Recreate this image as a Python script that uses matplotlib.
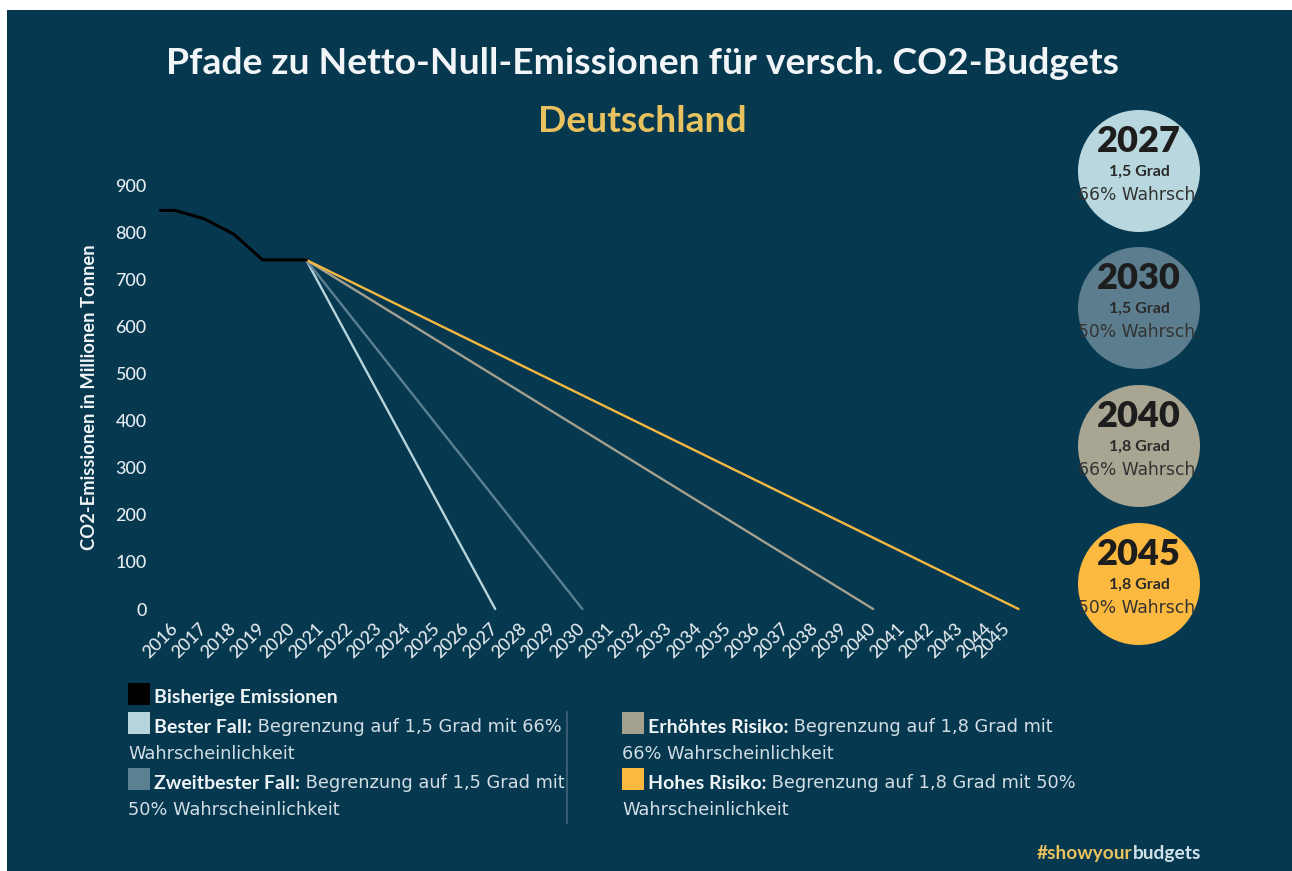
import matplotlib
matplotlib.use("Agg")
import matplotlib.pyplot as plt
from matplotlib.patches import Circle, Rectangle

# ===== DATA =====
HIST_YEARS = [2015.5, 2016, 2017, 2018, 2019, 2020.5]
HIST_VALUES = [846, 846, 828, 796, 741, 741]

BUDGET_END_YEARS = [2027, 2030, 2040, 2045]
BUDGET_GRAD = ["1,5 Grad", "1,5 Grad", "1,8 Grad", "1,8 Grad"]
BUDGET_PROB = ["66% Wahrsch.", "50% Wahrsch.", "66% Wahrsch.", "50% Wahrsch."]

TICK_YEARS = list(range(2016, 2046))
Y_TICKS = [0, 100, 200, 300, 400, 500, 600, 700, 800, 900]

LEGEND_BOLD = ["Bester Fall:", "Zweitbester Fall:", "Erhöhtes Risiko:", "Hohes Risiko:"]
LEGEND_LINE1 = [
    " Begrenzung auf 1,5 Grad mit 66%",
    " Begrenzung auf 1,5 Grad mit",
    " Begrenzung auf 1,8 Grad mit",
    " Begrenzung auf 1,8 Grad mit 50%",
]
LEGEND_LINE2 = [
    "Wahrscheinlichkeit",
    "50% Wahrscheinlichkeit",
    "66% Wahrscheinlichkeit",
    "Wahrscheinlichkeit",
]

# ===== STYLE =====
BG_COLOR = "#06384f"
TEXT_COLOR = "#e4ecf0"
LEGEND_TEXT = "#d3dee4"
GOLD = "#e8c25e"
HIST_COLOR = "#000000"
PATH_COLORS = ["#b6d4dc", "#5b8092", "#a3a08f", "#f6b840"]
CIRCLE_COLORS = ["#b9d7de", "#5b7d8e", "#a8a593", "#fbb93f"]
CIRCLE_TEXT = "#1d1d1d"
HEAD_FONT = "Lato"
BODY_FONT = "DejaVu Sans"

W, H = 1292, 871


def px_axes(fig):
    ax = fig.add_axes([0, 0, 1, 1], zorder=0)
    ax.set_xlim(0, W)
    ax.set_ylim(H, 0)
    ax.axis("off")
    return ax


def draw_budget_circles(bg):
    centers_y = [171, 308, 446, 584]
    cx, r = 1139, 61
    for year, grad, prob, color, cy in zip(BUDGET_END_YEARS, BUDGET_GRAD, BUDGET_PROB, CIRCLE_COLORS, centers_y):
        circ = Circle((cx, cy), r, facecolor=color, edgecolor="none")
        bg.add_patch(circ)
        texts = [
            bg.text(cx, cy - 30, str(year), ha="center", va="center", fontsize=26,
                    fontweight="heavy", family=HEAD_FONT, color=CIRCLE_TEXT),
            bg.text(cx, cy + 1, grad, ha="center", va="center", fontsize=11.5,
                    fontweight="bold", family=HEAD_FONT, color="#2a2a2a"),
            bg.text(cx, cy + 24, prob, ha="center", va="center", fontsize=12.3,
                    family=BODY_FONT, color="#333333"),
        ]
        for t in texts:
            t.set_clip_path(circ)


def draw_legend(fig, bg):
    renderer = fig.canvas.get_renderer()
    sq = 22
    bg.add_patch(Rectangle((128, 683), sq, sq, facecolor=HIST_COLOR, edgecolor="none"))
    bg.text(154, 697, "Bisherige Emissionen", ha="left", va="center", fontsize=14,
            fontweight="bold", family=HEAD_FONT, color="#eef3f5")

    col_x = [128, 128, 622, 622]
    row_y = [712, 768, 712, 768]
    for i in range(4):
        x0, y0 = col_x[i], row_y[i]
        bg.add_patch(Rectangle((x0, y0), sq, sq, facecolor=PATH_COLORS[i] if i != 3 else CIRCLE_COLORS[3],
                               edgecolor="none"))
        tb = bg.text(x0 + 26, y0 + 15, LEGEND_BOLD[i], ha="left", va="center", fontsize=14,
                     fontweight="bold", family=HEAD_FONT, color="#eef3f5")
        ext = tb.get_window_extent(renderer=renderer)
        bg.text(ext.x1, y0 + 15, LEGEND_LINE1[i], ha="left", va="center", fontsize=12.8,
                family=BODY_FONT, color=LEGEND_TEXT)
        bg.text(x0, y0 + 42, LEGEND_LINE2[i], ha="left", va="center", fontsize=12.8,
                family=BODY_FONT, color=LEGEND_TEXT)

    bg.plot([567, 567], [712, 823], color="#3f6479", linewidth=1.2)

    t1 = bg.text(1037, 853, "#showyour", ha="left", va="center", fontsize=13.8,
                 fontweight="bold", family=HEAD_FONT, color=GOLD)
    ext = t1.get_window_extent(renderer=renderer)
    bg.text(ext.x1, 853, "budgets", ha="left", va="center", fontsize=13.8,
            fontweight="bold", family=HEAD_FONT, color="#cfe2ea")


def main() -> None:
    fig = plt.figure(figsize=(W / 100, H / 100), dpi=100, facecolor="white")
    bg = px_axes(fig)
    bg.add_patch(Rectangle((7, 10), W - 7, H - 10, facecolor=BG_COLOR, edgecolor="none"))

    fig.text(0.497, 1 - 63 / H, "Pfade zu Netto-Null-Emissionen für versch. CO2-Budgets",
             ha="center", va="center", fontsize=26.8, fontweight="bold", family=HEAD_FONT, color="#f2f5f7")
    fig.text(0.497, 1 - 122 / H, "Deutschland", ha="center", va="center", fontsize=26.8,
             fontweight="bold", family=HEAD_FONT, color=GOLD)

    # main chart
    left, right, top, bottom = 155, 1020, 185, 609
    ax = fig.add_axes([left / W, 1 - bottom / H, (right - left) / W, (bottom - top) / H], zorder=2)
    ax.set_facecolor("none")
    for s in ax.spines.values():
        s.set_visible(False)

    start_year, start_val = HIST_YEARS[-1], HIST_VALUES[-1]
    for end_year, color in zip(BUDGET_END_YEARS, PATH_COLORS):
        ax.plot([start_year, end_year], [start_val, 0], color=color, linewidth=1.7,
                solid_capstyle="round", clip_on=False)
    ax.plot(HIST_YEARS, HIST_VALUES, color=HIST_COLOR, linewidth=2.2, clip_on=False)

    ax.set_xlim(2015.3, 2045.05)
    ax.set_ylim(0, 900)

    tick_pos = [y if y != 2045 else 2044.6 for y in TICK_YEARS]
    ax.set_xticks(tick_pos)
    ax.set_xticklabels([str(y) for y in TICK_YEARS], rotation=45, ha="right", va="center",
                       rotation_mode="anchor", fontsize=13, fontweight="medium",
                       family=HEAD_FONT, color=TEXT_COLOR)
    ax.set_yticks(Y_TICKS)
    ax.set_yticklabels([str(v) for v in Y_TICKS], fontsize=13, fontweight="medium",
                       family=HEAD_FONT, color=TEXT_COLOR)
    ax.tick_params(axis="both", length=0)
    ax.tick_params(axis="y", pad=6)
    ax.tick_params(axis="x", pad=12)

    fig.text(90 / W, 1 - 397 / H, "CO2-Emissionen in Millionen Tonnen", rotation=90,
             ha="center", va="center", fontsize=13.2, fontweight="bold", family=HEAD_FONT, color="#f2f5f7")

    draw_budget_circles(bg)
    draw_legend(fig, bg)

    fig.savefig("out.png", dpi=100, facecolor="white")


if __name__ == "__main__":
    main()
